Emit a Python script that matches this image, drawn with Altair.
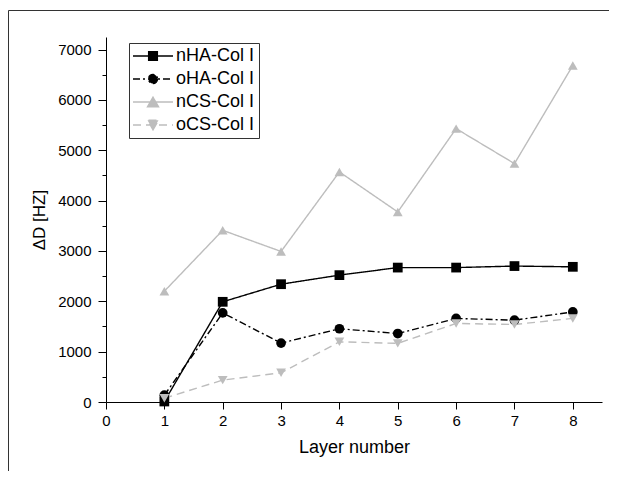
import altair as alt
import pandas as pd

layers = [1, 2, 3, 4, 5, 6, 7, 8]
names = ["nHA-Col I", "oHA-Col I", "nCS-Col I", "oCS-Col I"]
nHA = [10, 1990, 2340, 2520, 2670, 2670, 2700, 2685]
oHA = [135, 1770, 1170, 1455, 1360, 1660, 1625, 1790]
nCS = [2200, 3410, 2990, 4570, 3775, 5430, 4735, 6685]
oCS = [75, 435, 580, 1195, 1165, 1560, 1540, 1660]
x_ticks = [0, 1, 2, 3, 4, 5, 6, 7, 8]
y_ticks = [0, 500, 1000, 1500, 2000, 2500, 3000, 3500, 4000, 4500, 5000, 5500, 6000, 6500, 7000]

colors = ["#000000", "#000000", "#bdbdbd", "#bdbdbd"]
dashes = [[1, 0], [7, 3, 2, 3], [1, 0], [8, 5]]
shapes = ["square", "circle", "triangle-up", "triangle-down"]
legend_paths = [
    "M-4,0H4M-0.87,-0.87H0.87V0.87H-0.87Z",
    "M-4,0H4M0.9,0A0.9,0.9 0 1,1 -0.9,0A0.9,0.9 0 1,1 0.9,0Z",
    "M-4,0H4M0,-0.95L1.1,0.95L-1.1,0.95Z",
    "M-4,0H4M0,0.95L1.1,-0.95L-1.1,-0.95Z",
]

rows = []
for name, vals in zip(names, [nHA, oHA, nCS, oCS]):
    for l, v in zip(layers, vals):
        rows.append({"layer": l, "value": v, "series": name})
df = pd.DataFrame(rows)

FONT = "Liberation Sans"
W, H = 496, 365
PL, PT, PR, PB = 98, 29, 7, 69

xenc = alt.X("layer:Q", scale=alt.Scale(domain=[0, 8.5], nice=False),
             axis=alt.Axis(values=x_ticks, title="Layer number", grid=False,
                           domainColor="black", tickColor="black", tickSize=7,
                           labelPadding=4, labelFontSize=15, labelFont=FONT,
                           labelColor="black", titleFont=FONT, titleFontSize=18,
                           titleFontWeight="normal", titleColor="black",
                           titlePadding=10, labelFlush=False))
yenc = alt.Y("value:Q", scale=alt.Scale(domain=[0, 7250], nice=False),
             axis=alt.Axis(values=y_ticks, title="\u0394D [HZ]", grid=False,
                           format="d",
                           labelExpr="datum.value % 1000 === 0 ? datum.label : ''",
                           domainColor="black", tickColor="black",
                           tickSize={"condition": {"test": "datum.value % 1000 !== 0", "value": 4}, "value": 8},
                           labelPadding=7, labelFontSize=15, labelFont=FONT,
                           labelColor="black", titleFont=FONT, titleFontSize=17,
                           titleFontWeight="normal", titleColor="black",
                           titlePadding=9, labelFlush=False))

base = alt.Chart(df)

lines = base.mark_line(strokeWidth=1.4).encode(
    x=xenc, y=yenc,
    color=alt.Color("series:N", scale=alt.Scale(domain=names, range=colors), legend=None),
    strokeDash=alt.StrokeDash("series:N", scale=alt.Scale(domain=names, range=dashes), legend=None),
    detail="series:N",
)

points = base.mark_point(filled=True, size=95, opacity=1).encode(
    x=xenc, y=yenc,
    color=alt.Color("series:N", scale=alt.Scale(domain=names, range=colors), legend=None),
    shape=alt.Shape("series:N", scale=alt.Scale(domain=names, range=shapes), legend=None),
)

leg = alt.Legend(title=None, orient="none", legendX=23, legendY=6,
                 fillColor="white", strokeColor="#333333", padding=4,
                 symbolSize=100, symbolStrokeWidth=1.4, symbolOffset=11,
                 labelOffset=14, labelFontSize=18, labelFont=FONT,
                 labelColor="black", rowPadding=5, labelLimit=0)

legend_layer = base.transform_filter("false").mark_point(
    filled=True, size=100, strokeWidth=1.4, opacity=1).encode(
    x=xenc, y=yenc,
    shape=alt.Shape("series:N", scale=alt.Scale(domain=names, range=legend_paths), legend=leg),
    fill=alt.Fill("series:N", scale=alt.Scale(domain=names, range=colors), legend=leg),
    stroke=alt.Stroke("series:N", scale=alt.Scale(domain=names, range=colors), legend=leg),
    strokeDash=alt.StrokeDash("series:N", scale=alt.Scale(domain=names, range=dashes), legend=leg),
)

frame_left = alt.Chart(alt.Data(values=[{}])).mark_rule(color="#333333", strokeWidth=1).encode(
    x=alt.value(-97.5), y=alt.value(-26.5), y2=alt.value(H + PB))
frame_top = alt.Chart(alt.Data(values=[{}])).mark_rule(color="#333333", strokeWidth=1).encode(
    x=alt.value(-97.5), x2=alt.value(W + PR), y=alt.value(-26.5))

chart = alt.layer(frame_left, frame_top, lines, points, legend_layer).resolve_scale(
    shape="independent", strokeDash="independent", color="independent",
    fill="independent", stroke="independent"
).properties(
    width=W, height=H,
    autosize=alt.AutoSizeParams(type="none"),
    padding={"left": PL, "top": PT, "right": PR, "bottom": PB},
    background="white",
).configure_view(stroke=None)

chart.save("out.html", embed_options={"renderer": "svg", "actions": False})
